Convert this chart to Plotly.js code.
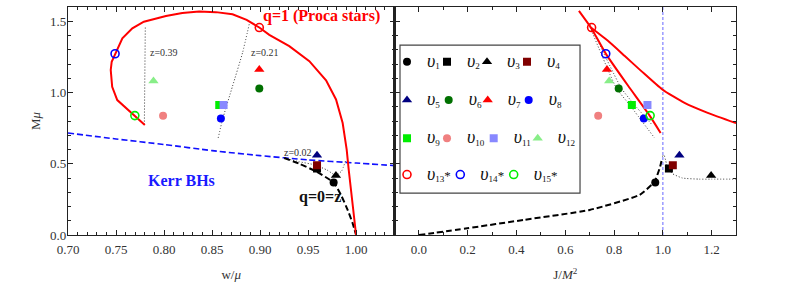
<!DOCTYPE html>
<html><head><meta charset="utf-8">
<script src="https://cdn.plot.ly/plotly-3.0.1.min.js"></script>
<style>html,body{margin:0;padding:0;background:#fff;}#chart{width:789px;height:296px;}</style>
</head><body><div id="chart"></div>
<script>
// ---------- Left panel: w/mu vs M mu ----------
const procaW = [0.780,0.7696,0.760,0.7513,0.746,0.7445,0.7455,0.749,0.7566,0.767,0.779,0.802,0.819,0.8366,0.854,0.8713,0.886,0.8992,0.9096,0.9304,0.9513,0.9687,0.9791,0.986,0.9902,0.9923,0.9954,0.998,1.0];
const procaM = [0.772,0.835,0.889,0.947,1.04,1.158,1.216,1.268,1.38,1.45,1.497,1.537,1.558,1.568,1.564,1.549,1.51,1.456,1.405,1.325,1.22,1.085,0.951,0.786,0.599,0.458,0.27,0.12,0.0];
const kerrW = [0.70,0.75,0.80,0.85,0.90,0.95,1.00,1.04];
const kerrM = [0.716,0.674,0.635,0.592,0.557,0.527,0.505,0.487];
const q0W = [0.9252,0.9409,0.9583,0.9766,0.9843,0.9912,0.9965,1.0];
const q0M = [0.540,0.50,0.446,0.368,0.28,0.176,0.08,0.0];
const z039W = [0.7795,0.780,0.7805];
const z039M = [0.775,1.12,1.465];
const z021W = [0.8564,0.8609,0.8713,0.8818,0.8887];
const z021M = [0.681,0.81,1.044,1.28,1.479];
const z002W = [0.9252,0.94,0.957,0.97,0.979,0.985,0.989];
const z002M = [0.540,0.515,0.492,0.455,0.418,0.45,0.52];

// ---------- Right panel: J/M^2 vs M mu ----------
const procaJa = [0.656,0.705,0.766,0.857,0.946,0.991];
const procaMa = [1.573,1.456,1.273,1.049,0.838,0.716];
const procaJb = [0.705,0.776,0.844,0.912,0.998,1.089,1.184,1.30];
const procaMb = [1.456,1.361,1.256,1.15,1.021,0.927,0.857,0.785];
const q0J = [0,0.198,0.43,0.70,0.905,0.966,0.989,0.997];
const q0Mr = [0,0.047,0.106,0.176,0.282,0.375,0.48,0.54];
const z039J = [0.701,0.830,0.884,0.955];
const z039Mr = [1.479,1.03,0.913,0.775];
const z021J = [0.697,0.810,0.864,0.966];
const z021Mr = [1.479,1.030,0.913,0.681];
const z002J = [0.997,1.005,1.012,1.02,1.04,1.08,1.15,1.2,1.3];
const z002Mr = [0.551,0.56,0.52,0.47,0.43,0.40,0.392,0.392,0.392];
const extJ = [1,1];
const extM = [0,1.6];

// ---------- Solutions ----------
const solNum = ['1','2','3','4','5','6','7','8','9','10','11','12','13*','14*','15*'];
const solW = [0.9766,0.9593,0.979,0.9593,0.9593,0.8992,0.8992,0.8592,0.8575,0.799,0.862,0.789,0.8992,0.749,0.7696];
const solJ = [0.969,1.025,1.198,1.041,1.068,0.819,0.771,0.922,0.873,0.735,0.937,0.78,0.708,0.766,0.948];
const solM = [0.368,0.467,0.417,0.49,0.56,1.028,1.162,0.817,0.913,0.836,0.913,1.08,1.456,1.272,0.838];

// styles (kept separate from data)
const solColor = ['#000000','#000000','#000000','#800000','#000080','#007000','#ff0000','#0000ff','#00ee00','#f08080','#8888ff','#88ee88','#ff0000','#0000ff','#00ee00'];
const solSymbol = ['circle','square','triangle-up','square','triangle-up','circle','triangle-up','circle','square','circle','square','triangle-up','circle-open','circle-open','circle-open'];
const solSize = [8,8,9,8,9,8,9,8,8,8,8,9,8,8,8];
const solLegend = ['legend','legend','legend','legend','legend2','legend2','legend2','legend2','legend3','legend3','legend3','legend3','legend4','legend4','legend4'];
const solLegW = [10,10,10,30,11.7,9,11,30,10,16.7,14,30,23.3,23.4,30];

const SERIF = 'Liberation Serif, Times New Roman, serif';
const traces = [];
function line(x, y, xa, ya, color, width, dash, shape){
  traces.push({x:x, y:y, xaxis:xa, yaxis:ya, type:'scatter', mode:'lines',
    line:{color:color, width:width, dash:dash, shape:shape||'linear', smoothing:0.5},
    showlegend:false, hoverinfo:'skip'});
}
// left
line(kerrW, kerrM, 'x', 'y', '#1010ff', 1.6, '6px,3px', 'spline');
line(z039W, z039M, 'x', 'y', '#333', 1, '1px,2px');
line(z021W, z021M, 'x', 'y', '#333', 1, '1px,2px', 'spline');
line(z002W, z002M, 'x', 'y', '#333', 1, '1px,2px', 'spline');
line(q0W, q0M, 'x', 'y', '#000', 2, '6px,3px', 'spline');
line(procaW, procaM, 'x', 'y', '#ff0000', 2, 'solid');
// right
line(extJ, extM, 'x2', 'y2', '#9999ff', 1.5, '3px,2px');
line(z039J, z039Mr, 'x2', 'y2', '#333', 1, '1px,2px', 'spline');
line(z021J, z021Mr, 'x2', 'y2', '#333', 1, '1px,2px', 'spline');
line(z002J, z002Mr, 'x2', 'y2', '#333', 1, '1px,2px', 'spline');
line(q0J, q0Mr, 'x2', 'y2', '#000', 2, '6px,3px', 'spline');
line(procaJa, procaMa, 'x2', 'y2', '#ff0000', 2, 'solid', 'spline');
line(procaJb, procaMb, 'x2', 'y2', '#ff0000', 2, 'solid', 'spline');

for (let i = 0; i < solNum.length; i++) {
  const mk = {color:solColor[i], symbol:solSymbol[i], size:solSize[i], line:{width: solSymbol[i].endsWith('open') ? 1.6 : 0, color:solColor[i]}};
  const star = solNum[i].endsWith('*');
  traces.push({x:[solW[i]], y:[solM[i]], xaxis:'x', yaxis:'y', type:'scatter', mode:'markers',
    name:'<span style="font-size:18px"><i>υ</i></span><sub>' + solNum[i].replace('*','') + '</sub>' + (star ? '*' : ''),
    marker:mk, legend:solLegend[i], legendgroup:'v'+i, legendwidth:solLegW[i], showlegend:true});
  traces.push({x:[solJ[i]], y:[solM[i]], xaxis:'x2', yaxis:'y2', type:'scatter', mode:'markers',
    marker:mk, legendgroup:'v'+i, showlegend:false});
}

const axBase = {showline:true, linecolor:'#222', linewidth:1.2, mirror:'ticks', ticks:'inside', ticklen:5,
  tickwidth:1, tickcolor:'#222', showgrid:false, zeroline:false,
  tickfont:{family:SERIF, size:13, color:'#333'}};
const legBase = {orientation:'h', xanchor:'left', yanchor:'middle', x:0.5, bgcolor:'rgba(0,0,0,0)',
  borderwidth:0, indentation:-15, itemwidth:30, font:{family:SERIF, size:13, color:'#111'}, traceorder:'normal'};

const layout = {
  width:789, height:296, margin:{l:68, r:53, t:7, b:61},
  paper_bgcolor:'#fff', plot_bgcolor:'#fff',
  font:{family:SERIF, size:13, color:'#222'},
  xaxis:Object.assign({}, axBase, {domain:[0,0.4888], range:[0.70,1.04], tick0:0.7, dtick:0.05, tickformat:'.2f',
    ticklabelstandoff:2,
    minor:{dtick:0.01, ticks:'inside', ticklen:3, tickcolor:'#222', showgrid:false},
    title:{text:'w/<i>μ</i>', font:{family:SERIF, size:13, color:'#333'}, standoff:14}}),
  yaxis:Object.assign({}, axBase, {domain:[0,1], range:[0,1.6], dtick:0.5, tickformat:'.1f',
    ticklabelstandoff:-2,
    minor:{dtick:0.1, ticks:'inside', ticklen:3, tickcolor:'#222', showgrid:false},
    title:{text:'M<i>μ</i>', font:{family:SERIF, size:13, color:'#333'}, standoff:6}}),
  xaxis2:Object.assign({}, axBase, {domain:[0.4888,1], anchor:'y2', range:[-0.1,1.3], tick0:0, dtick:0.2, tickformat:'.1f',
    ticklabelstandoff:2,
    minor:{dtick:0.1, ticks:'inside', ticklen:3, tickcolor:'#222', showgrid:false},
    title:{text:'J/<i>M</i><sup>2</sup>', font:{family:SERIF, size:13, color:'#333'}, standoff:14}}),
  yaxis2:Object.assign({}, axBase, {domain:[0,1], anchor:'x2', range:[0,1.6], dtick:0.5, showticklabels:false,
    minor:{dtick:0.1, ticks:'inside', ticklen:3, tickcolor:'#222', showgrid:false}}),
  legend:Object.assign({}, legBase, {y:0.76}),
  legend2:Object.assign({}, legBase, {y:0.592}),
  legend3:Object.assign({}, legBase, {y:0.424}),
  legend4:Object.assign({}, legBase, {y:0.265}),
  shapes:[{type:'rect', xref:'paper', yref:'paper', x0:0.497, x1:0.7665, y0:0.184, y1:0.833,
    line:{color:'#444', width:1.2}, fillcolor:'rgba(0,0,0,0)', layer:'above'}],
  annotations:[
    {x:0.9638, y:1.535, xref:'x', yref:'y', text:'<b>q=1 (Proca stars)</b>', showarrow:false, font:{family:SERIF, size:16, color:'#ff0000'}},
    {x:0.8178, y:0.380, xref:'x', yref:'y', text:'<b>Kerr BHs</b>', showarrow:false, font:{family:SERIF, size:16, color:'#1a1aff'}},
    {x:0.9628, y:0.268, xref:'x', yref:'y', text:'<b>q=0=z</b>', showarrow:false, font:{family:SERIF, size:16, color:'#111'}},
    {x:0.8001, y:1.282, xref:'x', yref:'y', text:'z=0.39', showarrow:false, font:{family:SERIF, size:10, color:'#333'}},
    {x:0.9054, y:1.282, xref:'x', yref:'y', text:'z=0.21', showarrow:false, font:{family:SERIF, size:10, color:'#333'}},
    {x:0.9398, y:0.577, xref:'x', yref:'y', text:'z=0.02', showarrow:false, font:{family:SERIF, size:10, color:'#333'}}
  ]
};
Plotly.newPlot('chart', traces, layout, {displayModeBar:false, staticPlot:true});
</script></body></html>
